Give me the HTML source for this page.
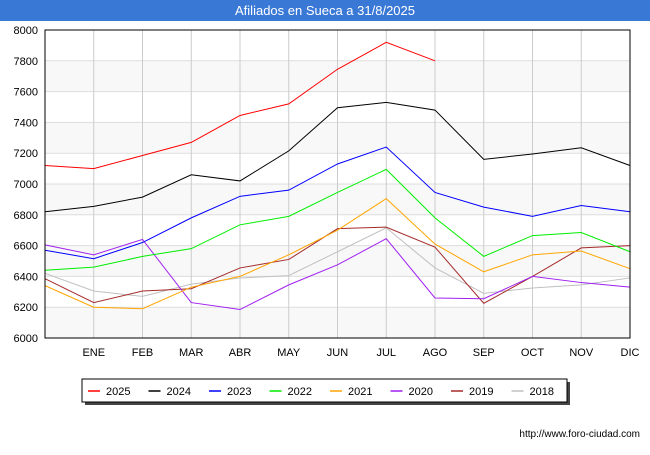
<!DOCTYPE html>
<html><head><meta charset="utf-8"><style>
body{margin:0;width:650px;height:450px;background:#fff;font-family:"Liberation Sans",sans-serif;overflow:hidden}
</style></head><body>
<svg width="650" height="450" id="svg" font-family="Liberation Sans, sans-serif">
<rect x="0" y="0" width="650" height="21" fill="#3a78d6"/>
<text x="325" y="15" text-anchor="middle" fill="#fff" font-size="13">Afiliados en Sueca a 31/8/2025</text>
<g id="grid"></g><g id="series"></g>
<rect x="45" y="30" width="585" height="308" fill="none" stroke="#000" stroke-width="1"/>
<g id="legend"></g>
<text x="640" y="437" text-anchor="end" font-size="10" fill="#000">http://www.foro-ciudad.com</text>
</svg>
<script>
const months=["","ENE","FEB","MAR","ABR","MAY","JUN","JUL","AGO","SEP","OCT","NOV","DIC"];
const yTicks=[6000,6200,6400,6600,6800,7000,7200,7400,7600,7800,8000];
const names=["2025","2024","2023","2022","2021","2020","2019","2018"];
const colors=["#ff0000","#000000","#0000ff","#00ee00","#ffa500","#a020f0","#a52a2a","#c0c0c0"];
const s2025=[7120,7100,7185,7270,7445,7520,7745,7920,7800];
const s2024=[6820,6855,6915,7060,7020,7215,7495,7530,7480,7160,7195,7235,7120];
const s2023=[6570,6515,6620,6780,6920,6960,7130,7240,6945,6850,6790,6860,6820];
const s2022=[6440,6460,6530,6580,6735,6790,6945,7095,6780,6530,6665,6685,6560];
const s2021=[6340,6200,6190,6330,6400,6540,6700,6905,6610,6430,6540,6565,6450];
const s2020=[6605,6540,6640,6230,6185,6345,6475,6645,6260,6255,6400,6360,6330];
const s2019=[6385,6230,6305,6320,6455,6510,6710,6720,6590,6225,6400,6585,6600];
const s2018=[6420,6305,6270,6350,6390,6405,6560,6715,6455,6290,6325,6345,6390];
const series=[s2025,s2024,s2023,s2022,s2021,s2020,s2019,s2018];
const NS="http://www.w3.org/2000/svg";
const X0=45,X1=630,Y0=338,Y1=30;
const x=i=>X0+i*(X1-X0)/12;
const y=v=>Y0-(v-6000)/2000*(Y0-Y1);
function mk(t,a,p){const e=document.createElementNS(NS,t);for(const k in a)e.setAttribute(k,a[k]);p.appendChild(e);return e;}
const g=document.getElementById('grid');
for(let i=0;i<yTicks.length-1;i++){
 if(i%2==0){const r=mk('rect',{x:X0,y:y(yTicks[i+1]),width:X1-X0,height:y(yTicks[i])-y(yTicks[i+1]),fill:i%4==0?'#f8f8f8':'#f8f8f8'},g);
 
 }
}
yTicks.forEach(v=>{
 const l=mk('line',{x1:X0,x2:X1,y1:y(v),y2:y(v),stroke:'#dddddd'},g);
 
 
 const t=mk('text',{x:38,y:y(v)+4,'text-anchor':'end','font-size':11,fill:'#000'},g);t.textContent=v;
 
 
});
months.forEach((m,i)=>{
 if(i>0){const l=mk('line',{x1:x(i),x2:x(i),y1:Y1,y2:Y0,stroke:'#cccccc'},g);
 
 }
 if(m){const t=mk('text',{x:x(i),y:356,'text-anchor':'middle','font-size':11,fill:'#000'},g);t.textContent=m;
 
 }
});
const sg=document.getElementById('series');
for(let k=series.length-1;k>=0;k--){
 const p=mk('polyline',{points:series[k].map((v,i)=>x(i)+','+y(v)).join(' '),fill:'none',stroke:colors[k],'stroke-width':1},sg);
 
 
}
const lg=document.getElementById('legend');
const sh=mk('rect',{x:85,y:382,width:485,height:23,fill:'#444'},lg);


const box=mk('rect',{x:82,y:379,width:485,height:23,fill:'#fff',stroke:'#000'},lg);


names.forEach((n,k)=>{
 const lx=88+k*60.5;
 const l=mk('line',{x1:lx,x2:lx+12,y1:391,y2:391,stroke:colors[k],'stroke-width':1.5},lg);
 
 
 const t=mk('text',{x:lx+18,y:395,'font-size':11,fill:'#000'},lg);t.textContent=n;
 
 
});
</script>
</body></html>
